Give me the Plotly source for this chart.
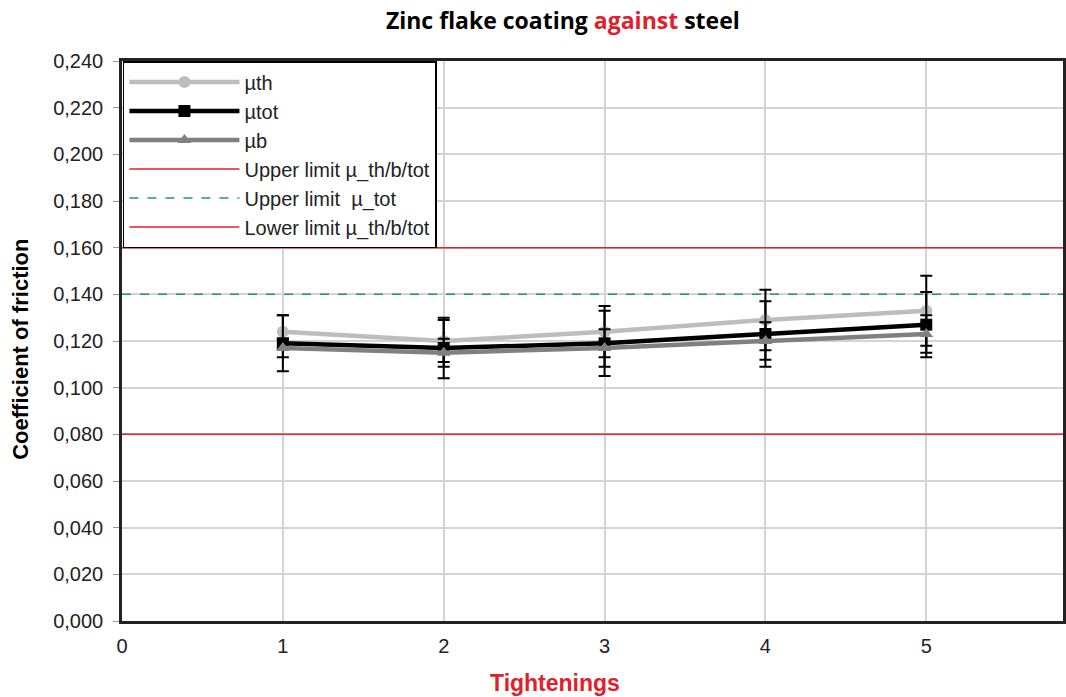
import plotly.graph_objects as go

tightenings = [1, 2, 3, 4, 5]
mu_th = [0.124, 0.120, 0.124, 0.129, 0.133]
mu_th_err = [0.007, 0.009, 0.011, 0.013, 0.015]
mu_tot = [0.119, 0.117, 0.119, 0.123, 0.127]
mu_tot_err = [0.012, 0.013, 0.014, 0.014, 0.014]
mu_b = [0.117, 0.115, 0.117, 0.120, 0.123]
mu_b_err = [0.004, 0.006, 0.008, 0.008, 0.008]

upper_limit = 0.160
upper_limit_tot = 0.140
lower_limit = 0.080
x_span = [0, 6]

y_ticks = [0.000, 0.020, 0.040, 0.060, 0.080, 0.100, 0.120, 0.140, 0.160, 0.180, 0.200, 0.220, 0.240]
x_ticks = [0, 1, 2, 3, 4, 5]

fig = go.Figure()

def err(arr):
    return dict(type="data", array=arr, visible=True, color="black", thickness=2, width=6)

fig.add_trace(go.Scatter(x=tightenings, y=mu_th, name="µth", mode="lines+markers",
                         line=dict(color="#bdbdbd", width=4.5),
                         marker=dict(symbol="circle", size=12, color="#bdbdbd"),
                         error_y=err(mu_th_err)))
fig.add_trace(go.Scatter(x=tightenings, y=mu_tot, name="µtot", mode="lines+markers",
                         line=dict(color="black", width=4.5),
                         marker=dict(symbol="square", size=12, color="black"),
                         error_y=err(mu_tot_err)))
fig.add_trace(go.Scatter(x=tightenings, y=mu_b, name="µb", mode="lines+markers",
                         line=dict(color="#808080", width=4.5),
                         marker=dict(symbol="triangle-up", size=12, color="#808080"),
                         error_y=err(mu_b_err)))
fig.add_trace(go.Scatter(x=x_span, y=[upper_limit] * 2, name="Upper limit µ_th/b/tot", mode="lines",
                         line=dict(color="#e0202a", width=1.5)))
fig.add_trace(go.Scatter(x=x_span, y=[upper_limit_tot] * 2, name="Upper limit  µ_tot", mode="lines",
                         line=dict(color="#1fa050", width=1.5, dash="dash")))
fig.add_trace(go.Scatter(x=x_span, y=[lower_limit] * 2, name="Lower limit µ_th/b/tot", mode="lines",
                         line=dict(color="#e0202a", width=1.5)))

fig.update_layout(
    width=1066, height=697,
    margin=dict(l=122, r=0, t=61, b=76),
    paper_bgcolor="white", plot_bgcolor="white",
    separators=",.",
    font=dict(family="Arial, Liberation Sans", size=20, color="#222"),
    title=dict(text="<b>Zinc flake coating <span style='color:#e0202a'>against</span> steel</b>",
               x=0.528, xanchor="center", xref="container", y=0.970, yanchor="middle",
               font=dict(family="Open Sans", size=23, color="black")),
    showlegend=True,
    legend=dict(x=0.001, y=1, xanchor="left", yanchor="top", bgcolor="white",
                bordercolor="black", borderwidth=1.5,
                font=dict(family="Arial, Liberation Sans", size=20, color="#222"),
                tracegroupgap=0, itemwidth=110),
    xaxis=dict(range=[0, 5.85], tickvals=x_ticks, showgrid=True, gridcolor="#d4d4d4", gridwidth=1.5,
               showline=True, linecolor="#222", linewidth=2.5, mirror=True, ticks="",
               zeroline=False, tickfont=dict(size=20), ticklabelstandoff=5),
    yaxis=dict(range=[0, 0.240], tickvals=y_ticks, tickformat=".3f", showgrid=True,
               gridcolor="#d4d4d4", gridwidth=1.5, showline=True, linecolor="#222", linewidth=2.5,
               mirror=True, ticks="outside", ticklen=6, tickcolor="#999", zeroline=False,
               tickfont=dict(size=20), ticklabelstandoff=6),
    annotations=[
        dict(text="<b>Tightenings</b>", x=0.46, y=-0.111, xref="paper", yref="paper",
             xanchor="center", yanchor="middle", showarrow=False,
             font=dict(family="Arial, Liberation Sans", size=23, color="#e0202a")),
        dict(text="<b>Coefficient of friction</b>", x=-0.108, y=0.485, xref="paper", yref="paper",
             xanchor="center", yanchor="middle", showarrow=False, textangle=-90,
             font=dict(family="Arial, Liberation Sans", size=22, color="black")),
    ],
)

fig.write_html("out.html")
